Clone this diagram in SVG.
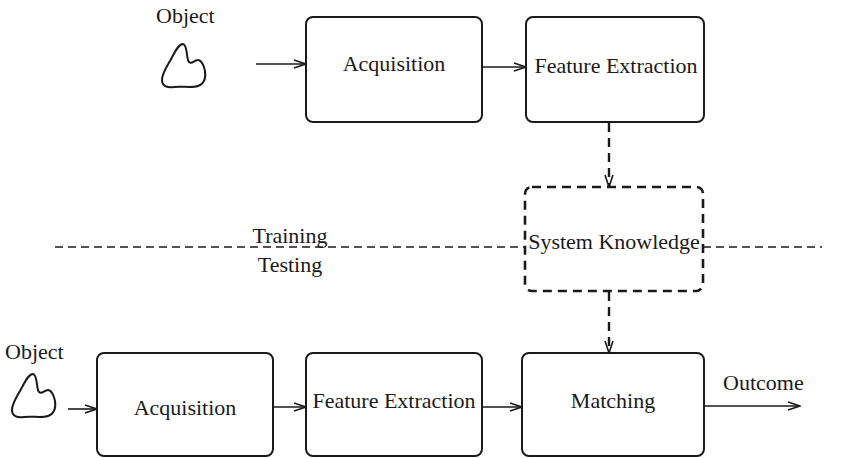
<svg xmlns="http://www.w3.org/2000/svg" width="844" height="458" viewBox="0 0 844 458">
  <style>
    text { font-family: "Liberation Serif", "Times New Roman", serif; font-size: 22px; fill: #1a1a1a; }
    .mid { text-anchor: middle; }
    .box { fill: none; stroke: #1a1a1a; stroke-width: 2; }
    .kbox { fill: none; stroke: #1a1a1a; stroke-width: 2.6; stroke-dasharray: 9 6; }
    .flow { fill: none; stroke: #1a1a1a; stroke-width: 1.6; marker-end: url(#head); }
    .dflow { fill: none; stroke: #1a1a1a; stroke-width: 2.4; stroke-dasharray: 9 6; marker-end: url(#head); }
    .divider { fill: none; stroke: #1a1a1a; stroke-width: 1.4; stroke-dasharray: 8 5; }
    .blob { fill: none; stroke: #1a1a1a; stroke-width: 2; }
  </style>
  <defs>
    <marker id="head" viewBox="0 0 14 10" refX="13" refY="5" markerWidth="14" markerHeight="10" markerUnits="userSpaceOnUse" orient="auto">
      <path d="M1,1 L13,5 L1,9" fill="none" stroke="#1a1a1a" stroke-width="1.6"/>
    </marker>
    <path id="blobShape" d="M33,4 C28,4 24,14 20,21 C16,28 12,34 12,40 C12,46 17,48 24,47 C32,46 42,48 48,46 C54,44 56,38 55,31 C54,25 51,20 48,20 C44,20 42,25 39,22 C36,19 38,5 33,4 Z"/>
  </defs>
  <rect width="844" height="458" fill="#ffffff"/>

  <!-- training / testing divider -->
  <g id="divider">
    <line class="divider" x1="55" y1="247" x2="525" y2="247"/>
    <line class="divider" x1="703" y1="247" x2="822" y2="247"/>
    <text class="mid" x="290" y="243">Training</text>
    <text class="mid" x="290" y="272">Testing</text>
  </g>

  <!-- training row -->
  <g id="object-train">
    <text x="156" y="23">Object</text>
    <use href="#blobShape" class="blob" transform="translate(150,40)"/>
  </g>
  <g id="acquisition-train">
    <rect class="box" x="306" y="17" width="176" height="105" rx="7"/>
    <text class="mid" x="394" y="71">Acquisition</text>
  </g>
  <g id="feature-train">
    <rect class="box" x="526" y="17" width="178" height="105" rx="7"/>
    <text class="mid" x="616" y="73">Feature Extraction</text>
  </g>

  <!-- shared knowledge -->
  <g id="system-knowledge">
    <rect class="kbox" x="525" y="187" width="178" height="104" rx="7"/>
    <text class="mid" x="614" y="249">System Knowledge</text>
  </g>

  <!-- testing row -->
  <g id="object-test">
    <text x="5" y="359">Object</text>
    <use href="#blobShape" class="blob" transform="translate(0,370)"/>
  </g>
  <g id="acquisition-test">
    <rect class="box" x="97" y="353" width="176" height="103" rx="7"/>
    <text class="mid" x="185" y="415">Acquisition</text>
  </g>
  <g id="feature-test">
    <rect class="box" x="306" y="353" width="176" height="103" rx="7"/>
    <text class="mid" x="394" y="408">Feature Extraction</text>
  </g>
  <g id="matching">
    <rect class="box" x="522" y="353" width="182" height="103" rx="7"/>
    <text class="mid" x="613" y="408">Matching</text>
  </g>
  <g id="outcome-label">
    <text x="723" y="390">Outcome</text>
  </g>

  <!-- connectors -->
  <g id="connectors">
    <line class="flow" x1="256" y1="64" x2="306" y2="64"/>
    <line class="flow" x1="482" y1="67" x2="526" y2="67"/>
    <line class="dflow" x1="609" y1="123" x2="609" y2="187"/>
    <line class="dflow" x1="609" y1="292" x2="609" y2="353"/>
    <line class="flow" x1="68" y1="409" x2="97" y2="409"/>
    <line class="flow" x1="273" y1="407" x2="306" y2="407"/>
    <line class="flow" x1="482" y1="407" x2="522" y2="407"/>
    <line class="flow" x1="704" y1="406" x2="800" y2="406"/>
  </g>
</svg>
